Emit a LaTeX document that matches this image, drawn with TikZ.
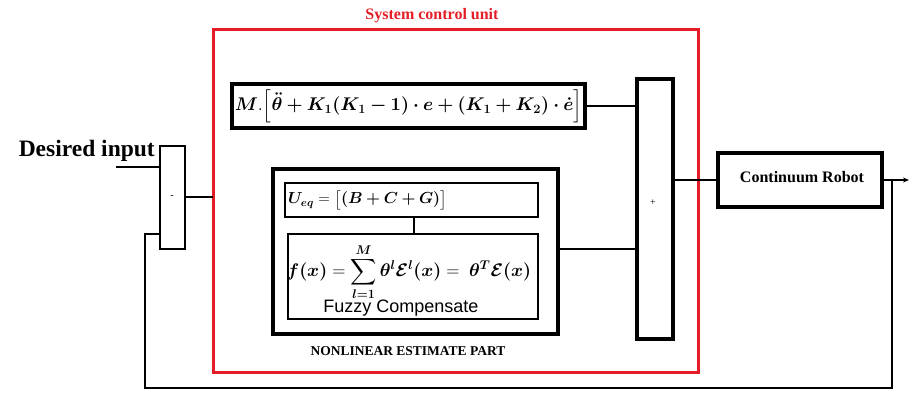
\documentclass[tikz,border=0pt]{standalone}
\usepackage{graphicx}
\usepackage{amsmath}
\usepackage{bm}
\usepackage[no-math]{fontspec}
\setmainfont{Liberation Serif}
\newfontfamily\arialfont{Liberation Sans}
\usetikzlibrary{arrows.meta,calc}
\definecolor{unitred}{RGB}{228,30,38}
\begin{document}
\begin{tikzpicture}[x=1pt,y=-1pt,
  thickbox/.style={draw,line width=3.6pt,rectangle,inner sep=0pt,fill=white},
  thinbox/.style={draw,line width=1.4pt,rectangle,inner sep=0pt},
  juncbox/.style={draw,line width=2.8pt,rectangle,inner sep=0pt},
  wire/.style={line width=2.8pt},
  fbwire/.style={line width=2.2pt},
  lbl/.style={inner sep=0pt}]
\useasboundingbox (0,0) rectangle (922,403);
% red unit
\draw[unitred,line width=3pt] (213,30) rectangle (698,373);
\node[lbl,text=unitred,font=\fontsize{16}{18}\selectfont\bfseries] (title) at (432,16) {System control unit};
% summing junction
\node[juncbox,minimum width=25pt,minimum height=103pt] (junc) at (172.5,197.5) {};
\node[lbl,font=\fontsize{10}{12}\selectfont] (minus) at (172,197) {-};
\node[lbl,font=\fontsize{23.5}{26}\selectfont\bfseries,anchor=base east] (desired) at (155,157) {Desired input};
\coordinate (inp) at (116,167);
\draw[wire] (inp) -- (inp -| junc.west);
\coordinate (redL) at (213,197);
\draw[wire] (junc.east |- redL) -- (redL);
% top equation
\node[thickbox,minimum width=353pt,minimum height=44pt] (topeq) at (408.5,106) {};
\node[lbl,font=\fontsize{17.28}{20}\selectfont] (topeqtext) at (408.5,106)
 {\scalebox{1.065}{$\bm{M}.\Big[\bm{\ddot\theta + K_1(K_1-1)\cdot e + (K_1+K_2)\cdot\dot e}\Big]$}};
% plus junction
\node[thickbox,minimum width=36pt,minimum height=260pt] (plus) at (655,209) {};
\node[lbl,font=\fontsize{10}{12}\selectfont] (plussign) at (653,203) {+};
% nonlinear part
\node[thickbox,minimum width=285pt,minimum height=165pt] (nl) at (415.5,251.5) {};
\node[thinbox,minimum width=253pt,minimum height=34pt] (ueq) at (411.5,200) {};
\node[lbl,anchor=west,font=\fontsize{17.28}{20}\selectfont] (ueqtext) at (288,200)
 {\scalebox{0.925}{$\bm{U_{eq}} = \big[\bm{(B+C+G)}\big]$}};
\node[thinbox,minimum width=250pt,minimum height=85pt] (fbox) at (413,276.5) {};
\node[lbl,font=\fontsize{17.28}{20}\selectfont] (ftext) at (409,272)
 {\scalebox{1.055}{$\bm{f(x)} = \displaystyle\sum_{\bm{l=1}}^{\bm{M}} \bm{\theta^l \mathcal{E}^l(x)} = \ \bm{\theta^T\mathcal{E}(x)}$}};
\node[lbl,font=\arialfont\fontsize{18}{20}\selectfont] (fuzzy) at (401,308) {Fuzzy Compensate};
\draw[line width=1.4pt] (ueq.south -| 414,0) -- (fbox.north -| 414,0);
\node[lbl,font=\fontsize{13.5}{15}\selectfont\bfseries] (nltitle) at (408,351) {NONLINEAR ESTIMATE PART};
% connections to plus
\draw[wire] (topeq.east) -- (topeq.east -| plus.west);
\coordinate (nlout) at (558,249);
\draw[wire] (nlout) -- (nlout -| plus.west);
% robot
\node[thickbox,minimum width=164pt,minimum height=54pt] (robot) at (800,180) {};
\node[lbl,font=\fontsize{16}{18}\selectfont\bfseries] (robottext) at (802,177) {Continuum Robot};
\draw[wire] (robot.west -| plus.east) -- (robot.west);
\coordinate (outp) at (909,180);
\draw[fbwire,-{Stealth[length=6pt,width=5pt]}] (robot.east) -- (outp);
% feedback
\coordinate (fb1) at (892,180);
\coordinate (fbL) at (145,388);
\coordinate (fbIn) at (160,234);
\draw[fbwire] (fb1) |- (fbL) |- (fbIn);
\end{tikzpicture}
\end{document}
